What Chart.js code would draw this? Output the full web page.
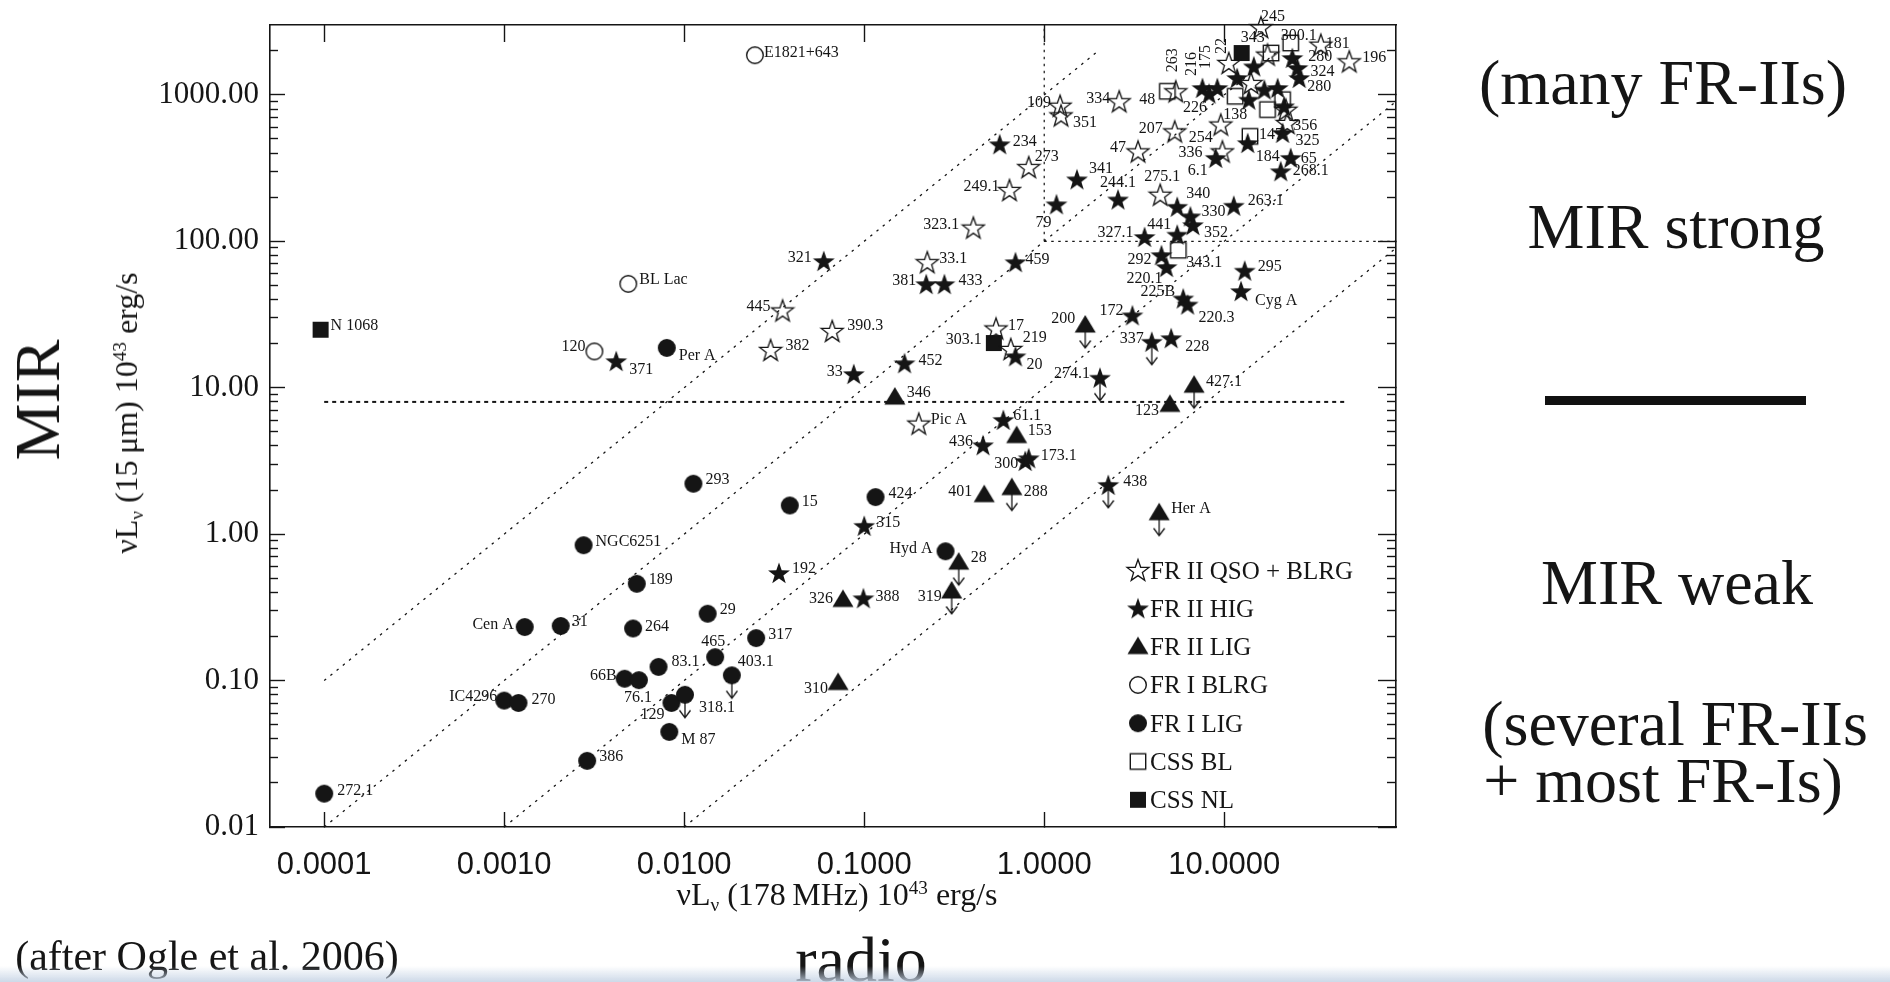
<!DOCTYPE html>
<html>
<head>
<meta charset="utf-8">
<script src="https://cdn.jsdelivr.net/npm/chart.js@4.4.1/dist/chart.umd.min.js"></script>
<style>
  html, body { margin: 0; padding: 0; background: #fff; }
  body { width: 1890px; height: 982px; position: relative; overflow: hidden;
         font-family: "Liberation Serif", "Times New Roman", serif; color: #151515; }
  #plot { position: absolute; left: 0; top: 0; }
  .t { position: absolute; white-space: nowrap; line-height: 1; transform: translate(-50%, -50%); }
  .axt { font-size: 32px; }
  .axt .sb { font-size: 0.6em; position: relative; top: 0.3em; }
  .axt .sp { font-size: 0.6em; position: relative; top: -0.55em; }
  .rot { transform: translate(-50%, -50%) rotate(-90deg); }
  .big { font-size: 64px; }
  #rule { position: absolute; left: 1545px; top: 396px; width: 261px; height: 9px; background: #111; }
  #haze { position: absolute; left: 0; bottom: 0; width: 1890px; height: 16px;
          background: linear-gradient(to bottom, rgba(255,255,255,0), rgba(196,210,228,0.85)); }
</style>
</head>
<body>
<canvas id="plot" width="1890" height="982"></canvas>

<div class="t axt" style="left:837px; top:894px;">&nu;L<span class="sb">&nu;</span> (178&thinsp;MHz) 10<span class="sp">43</span> erg/s</div>
<div class="t axt rot" style="left:126px; top:413px;">&nu;L<span class="sb">&nu;</span> (15&thinsp;&mu;m) 10<span class="sp">43</span> erg/s</div>

<div class="t big rot" style="left:38px; top:400px;">MIR</div>
<div class="t big" style="left:861px; top:960px;">radio</div>
<div class="t" style="left:207px; top:956px; font-size:42px;">(after Ogle et al. 2006)</div>

<div class="t big" style="left:1663px; top:83px;">(many FR-IIs)</div>
<div class="t big" style="left:1676px; top:227px;">MIR strong</div>
<div id="rule"></div>
<div class="t big" style="left:1677px; top:583px;">MIR weak</div>
<div class="t big" style="left:1675px; top:724px;">(several FR-IIs</div>
<div class="t big" style="left:1663px; top:781px;">+ most FR-Is)</div>
<div id="haze"></div>

<script>
// ---------- axes ----------
const xRange = [5e-5, 90];
const yRange = [0.01, 3000];
const xMajorTicks = [0.0001, 0.001, 0.01, 0.1, 1, 10];
const xTickLabels = ['0.0001', '0.0010', '0.0100', '0.1000', '1.0000', '10.0000'];
const yMajorTicks = [0.01, 0.1, 1, 10, 100, 1000];
const yTickLabels = ['0.01', '0.10', '1.00', '10.00', '100.00', '1000.00'];
const minorSteps = [2, 3, 4, 5, 6, 7, 8, 9];

// ---------- FR II QSO + BLRG ----------
const qsoNames = ['445', '382', '390.3', '323.1', '33.1', 'Pic A', '249.1', '273', '109', '351',
  '334', '17', '219', '207', '47', '275.1', '254', '336', '263', '22', '245', '181', '196',
  '', '', '', '356'];
const qsoX = [0.0352, 0.0302, 0.0664, 0.404, 0.224, 0.201, 0.641, 0.82, 1.225, 1.24,
  2.61, 0.54, 0.652, 5.31, 3.32, 4.41, 9.57, 9.77, 5.38, 10.6, 16.0, 34.4, 49.5,
  17.4, 14.1, 22.0, 22.4];
const qsoY = [33.7, 18.1, 24.4, 124, 72, 5.69, 224, 321, 843, 724,
  904, 25.4, 18.4, 563, 411, 208, 627, 411, 1058, 1651, 2900, 2203, 1694,
  1883, 1205, 792, 643];

// ---------- FR II HIG ----------
const higNames = ['371', '321', '33', '452', '381', '433', '234', '459', '20', '79',
  '341', '244.1', '327.1', '292', '220.1', '441', '340', '330', '352', '263.1',
  '295', 'Cyg A', '225B', '220.3', '172', '337', '228', '274.1', '61.1', '436',
  '300', '173.1', '315', '192', '388', '438', '6.1', '184', '325', '65',
  '268.1', '216', '226', '175', '', '', '', '', '', '',
  '280', '324', '280'];
const higX = [0.00419, 0.0596, 0.0875, 0.1675, 0.221, 0.279, 0.566, 0.692, 0.692, 1.17,
  1.52, 2.57, 3.61, 4.48, 4.78, 5.48, 5.48, 6.49, 6.7, 11.3,
  13.0, 12.4, 5.92, 6.26, 3.09, 3.96, 5.07, 2.04, 0.593, 0.457,
  0.784, 0.82, 0.1, 0.0336, 0.099, 2.27, 8.97, 13.5, 21.1, 23.4,
  20.6, 7.57, 8.24, 9.16, 11.8, 14.6, 13.7, 16.7, 19.8, 21.5,
  23.9, 25.5, 26.1];
const higY = [15.2, 73.3, 12.4, 14.7, 51, 51, 460, 72, 16.4, 179,
  265, 193, 107, 80.5, 66.7, 111, 172, 148, 129, 175,
  63, 45.7, 40.7, 37, 31.2, 20.6, 21.8, 11.7, 6.03, 4.05,
  3.16, 3.3, 1.14, 0.543, 0.365, 2.17, 371, 469, 550, 371,
  301, 1114, 1020, 1114, 1304, 1566, 927, 1086, 1114, 836,
  1786, 1527, 1304];

// ---------- FR II LIG ----------
const frIILigNames = ['346', '153', '401', '288', '28', '319', '326', '310', '200', '123', '427.1', 'Her A'];
const frIILigX = [0.148, 0.703, 0.464, 0.661, 0.335, 0.306, 0.0762, 0.0716, 1.69, 4.99, 6.8, 4.35];
const frIILigY = [8.63, 4.71, 1.86, 2.08, 0.644, 0.409, 0.358, 0.097, 26.8, 7.69, 10.4, 1.40];

// ---------- FR I BLRG ----------
const frIBlrgNames = ['E1821+643', 'BL Lac', '120'];
const frIBlrgX = [0.0247, 0.00489, 0.00317];
const frIBlrgY = [1866, 51.2, 17.7];

// ---------- FR I LIG ----------
const frILigNames = ['272.1', '386', 'IC4296', '270', 'Cen A', '31', 'NGC6251', '189', '264', '66B',
  '76.1', '129', '318.1', 'M 87', '83.1', '465', '403.1', '29', '317', '293',
  '15', '424', 'Hyd A', 'Per A'];
const frILigX = [0.0001, 0.00289, 0.0010, 0.0012, 0.0013, 0.00206, 0.00276, 0.00545, 0.0052, 0.00467,
  0.0056, 0.0085, 0.0101, 0.00826, 0.0072, 0.01486, 0.0184, 0.0135, 0.0251, 0.01125,
  0.0386, 0.1156, 0.283, 0.0080];
const frILigY = [0.0169, 0.0283, 0.073, 0.0703, 0.232, 0.236, 0.84, 0.458, 0.227, 0.103,
  0.1007, 0.0703, 0.080, 0.0446, 0.124, 0.1445, 0.1086, 0.286, 0.195, 2.21,
  1.57, 1.79, 0.764, 18.7];

// ---------- CSS ----------
const cssBlNames = ['48', '138', '', '147', '300.1', '', '', '343.1'];
const cssBlX = [4.83, 11.5, 17.4, 13.9, 23.4, 18.2, 21.1, 5.56];
const cssBlY = [1058, 978, 793, 521, 2260, 1931, 927, 86.9];

const cssNlNames = ['N 1068', '303.1', '343'];
const cssNlX = [0.0000955, 0.525, 12.5];
const cssNlY = [24.9, 20.2, 1931];

// sources with only an upper limit on the 15 micron luminosity
const upperLimits = ['337', '274.1', '438', '288', '28', '319', '200', '427.1', 'Her A', '318.1', '403.1'];

// reference lines: constant MIR/radio ratio, and the MIR split
const ratioLinesX = [[1e-4, 2], [1e-4, 20], [1e-3, 90], [1e-2, 90]];
const ratioLinesY = [[0.1, 2000], [0.01, 2000], [0.01, 900], [0.01, 90]];
const mirSplitX = [1e-4, 47];
const mirSplitY = [8, 8];
const strongCornerX = [[1, 1], [1, 90]];
const strongCornerY = [[100, 3000], [100, 100]];

// ---------- where each name sits relative to its marker: [dx, dy, align] ----------
// align: l = starts at dx, r = ends at dx, c = centred, v = rotated, reading upwards
const qsoSpots = [[-12,-5,'r'],[15,-5,'l'],[15,-6,'l'],[-14,-4,'r'],[12,-5,'l'],[12,-5,'l'],[-10,-5,'r'],[6,-12,'l'],[-9,-4,'r'],[12,6,'l'],
  [-9,-4,'r'],[12,-4,'l'],[12,-12,'l'],[-12,-4,'r'],[-12,-5,'r'],[2,-19,'c'],[-8,12,'r'],[-20,0,'r'],[-4,-31,'v'],[-8,-17,'v'],
  [12,-12,'c'],[5,-2,'l'],[13,-5,'l'],null,null,null,[6,2,'l']];
const higSpots = [[13,7,'l'],[-12,-5,'r'],[-11,-4,'r'],[14,-4,'l'],[-10,-5,'r'],[14,-5,'l'],[13,-4,'l'],[10,-4,'l'],[11,7,'l'],[-5,17,'r'],
  [12,-12,'l'],[0,-18,'c'],[-11,-5,'r'],[-10,3,'r'],[-4,10,'r'],[-6,-11,'r'],[9,-14,'l'],[11,-6,'l'],[11,6,'l'],[14,-6,'l'],
  [13,-5,'l'],[14,8,'l'],[-8,-8,'r'],[11,12,'l'],[-9,-6,'r'],[-8,-4,'r'],[14,7,'l'],[-10,-5,'r'],[10,-5,'l'],[-10,-5,'r'],
  [-7,2,'r'],[12,-4,'l'],[12,-4,'l'],[13,-5,'l'],[12,-3,'l'],[15,-4,'l'],[-8,12,'r'],[8,12,'l'],[13,7,'l'],[10,0,'l'],
  [12,-2,'l'],[-12,-24,'v'],[-2,13,'r'],[-13,-31,'v'],null,null,null,null,null,null,
  [16,-2,'l'],[13,3,'l'],[8,8,'l']];
const frIILigSpots = [[12,-6,'l'],[11,-6,'l'],[-12,-4,'r'],[12,3,'l'],[12,-6,'l'],[-10,5,'r'],[-10,-2,'r'],[-10,5,'r'],[-10,-8,'r'],[-11,5,'r'],[12,-5,'l'],[12,-5,'l']];
const frIBlrgSpots = [[9,-4,'l'],[11,-5,'l'],[-9,-6,'r']];
const frILigSpots = [[13,-4,'l'],[12,-5,'l'],[-7,-5,'r'],[13,-4,'l'],[-11,-4,'r'],[11,-5,'l'],[12,-5,'l'],[12,-5,'l'],[12,-3,'l'],[-8,-4,'r'],
  [-1,16,'c'],[-7,11,'r'],[14,12,'l'],[12,7,'l'],[13,-6,'l'],[-2,-17,'c'],[6,-15,'l'],[12,-5,'l'],[12,-5,'l'],[12,-5,'l'],
  [12,-5,'l'],[13,-5,'l'],[-13,-4,'r'],[12,7,'l']];
const cssBlSpots = [[-12,7,'r'],[0,17,'c'],null,[9,-3,'l'],[-10,-9,'l'],null,null,[8,11,'l']];
const cssNlSpots = [[10,-5,'l'],[-12,-5,'r'],[11,-17,'c']];

// ---------- drawing ----------
const INK = '#151515';
const SERIF = '"Liberation Serif", "Times New Roman", serif';
const SANS = '"Liberation Sans", Arial, sans-serif';

function makeMarker(kind) {
  const c = document.createElement('canvas');
  const w = kind === 'arrow' ? 14 : 26;
  const h = kind === 'arrow' ? 60 : 26;
  c.width = w; c.height = h;
  const g = c.getContext('2d');
  const cx = w / 2, cy = h / 2;
  g.fillStyle = INK; g.strokeStyle = INK; g.lineJoin = 'miter';
  g.beginPath();
  if (kind === 'starOpen' || kind === 'starFilled') {
    const R = 11.5, r = R * 0.4;
    for (let i = 0; i < 10; i++) {
      const a = -Math.PI / 2 + i * Math.PI / 5, rr = i % 2 ? r : R;
      g.lineTo(cx + rr * Math.cos(a), cy + 1 + rr * Math.sin(a));
    }
    g.closePath();
    if (kind === 'starFilled') g.fill(); else { g.lineWidth = 1.3; g.stroke(); }
  } else if (kind === 'circleFilled') {
    g.arc(cx, cy, 9, 0, Math.PI * 2); g.fill();
  } else if (kind === 'circleOpen') {
    g.arc(cx, cy, 8.3, 0, Math.PI * 2); g.lineWidth = 1.4; g.stroke();
  } else if (kind === 'squareOpen') {
    g.lineWidth = 1.4; g.strokeRect(cx - 7.7, cy - 7.7, 15.4, 15.4);
  } else if (kind === 'squareFilled') {
    g.fillRect(cx - 8, cy - 8, 16, 16);
  } else if (kind === 'triangle') {
    g.moveTo(cx, cy - 10); g.lineTo(cx + 10.5, cy + 7.5); g.lineTo(cx - 10.5, cy + 7.5);
    g.closePath(); g.fill();
  } else if (kind === 'arrow') {
    g.lineWidth = 1.3;
    g.moveTo(cx, cy); g.lineTo(cx, cy + 23);
    g.moveTo(cx - 5.5, cy + 15.5); g.lineTo(cx, cy + 23); g.lineTo(cx + 5.5, cy + 15.5);
    g.stroke();
  }
  return c;
}

const series = [
  { label: 'FR II QSO + BLRG', names: qsoNames, xs: qsoX, ys: qsoY, spots: qsoSpots, marker: makeMarker('starOpen') },
  { label: 'FR II HIG', names: higNames, xs: higX, ys: higY, spots: higSpots, marker: makeMarker('starFilled') },
  { label: 'FR II LIG', names: frIILigNames, xs: frIILigX, ys: frIILigY, spots: frIILigSpots, marker: makeMarker('triangle') },
  { label: 'FR I BLRG', names: frIBlrgNames, xs: frIBlrgX, ys: frIBlrgY, spots: frIBlrgSpots, marker: makeMarker('circleOpen') },
  { label: 'FR I LIG', names: frILigNames, xs: frILigX, ys: frILigY, spots: frILigSpots, marker: makeMarker('circleFilled') },
  { label: 'CSS BL', names: cssBlNames, xs: cssBlX, ys: cssBlY, spots: cssBlSpots, marker: makeMarker('squareOpen') },
  { label: 'CSS NL', names: cssNlNames, xs: cssNlX, ys: cssNlY, spots: cssNlSpots, marker: makeMarker('squareFilled') }
];

const toPoints = (xs, ys) => xs.map((x, i) => ({ x, y: ys[i] }));

const datasets = series.map((s, k) => ({
  type: 'scatter', label: s.label, data: toPoints(s.xs, s.ys),
  pointStyle: s.marker, pointRadius: 10, pointHoverRadius: 10, clip: false, order: k
}));

// downward arrows under the upper limits
const limitPoints = [];
series.forEach(s => s.names.forEach((n, i) => {
  if (n && upperLimits.includes(n)) limitPoints.push({ x: s.xs[i], y: s.ys[i] });
}));
datasets.push({ type: 'scatter', label: 'upper limits', data: limitPoints,
  pointStyle: makeMarker('arrow'), pointRadius: 10, clip: false, order: 30 });

function dottedLine(xs, ys, dash, width) {
  return { type: 'scatter', label: '', data: toPoints(xs, ys), showLine: true, fill: false,
    pointRadius: 0, borderColor: INK, borderWidth: width, borderDash: dash, order: 40 };
}
ratioLinesX.forEach((xs, i) => datasets.push(dottedLine(xs, ratioLinesY[i], [2.5, 5.5], 1.3)));
datasets.push(dottedLine(mirSplitX, mirSplitY, [4, 4], 2));
strongCornerX.forEach((xs, i) => datasets.push(dottedLine(xs, strongCornerY[i], [2.5, 4.5], 1.2)));

// tick lists for each edge of the frame
const decadesOnly = list => axis => { axis.ticks = list.map(v => ({ value: v })); };
const yMinorTicks = [];
yMajorTicks.forEach(d => minorSteps.forEach(m => { const v = d * m; if (v < yRange[1]) yMinorTicks.push(v); }));

function noOverhang(a) { a.paddingTop = 0; a.paddingBottom = 0; a.paddingLeft = 0; a.paddingRight = 0; }

function edgeAxis(position, range, ticks, len, extra) {
  return Object.assign({
    type: 'logarithmic', position, min: range[0], max: range[1],
    afterBuildTicks: decadesOnly(ticks),
    afterFit: a => { if (a.isHorizontal()) a.height = 0; else a.width = 0; noOverhang(a); },
    grid: { drawOnChartArea: false, drawTicks: true, tickLength: -len, tickColor: INK, tickWidth: 1.4 },
    border: { display: false },
    ticks: { display: false, autoSkip: false }
  }, extra || {});
}

const scales = {
  x: {
    type: 'logarithmic', position: 'bottom', min: xRange[0], max: xRange[1],
    afterBuildTicks: decadesOnly(xMajorTicks),
    afterFit: a => { a.height = 155; noOverhang(a); },
    grid: { drawOnChartArea: false, drawTicks: true, tickLength: -15, tickColor: INK, tickWidth: 1.4 },
    border: { display: true, color: INK, width: 1.6 },
    ticks: { autoSkip: false, maxRotation: 0, minRotation: 0, padding: 35, color: INK,
      font: { family: SANS, size: 31 }, callback: (v, i) => xTickLabels[i] }
  },
  y: {
    type: 'logarithmic', position: 'left', weight: 1, min: yRange[0], max: yRange[1],
    afterBuildTicks: decadesOnly(yMajorTicks),
    afterFit: a => { a.width = 270; noOverhang(a); },
    grid: { drawOnChartArea: false, drawTicks: true, tickLength: -15, tickColor: INK, tickWidth: 1.4 },
    border: { display: true, color: INK, width: 1.6 },
    ticks: { autoSkip: false, padding: 26, color: INK,
      font: { family: SERIF, size: 31 }, callback: (v, i) => yTickLabels[i] }
  },
  yMinor: edgeAxis('left', yRange, yMinorTicks, 8, { weight: 0 }),
  yRight: edgeAxis('right', yRange, yMajorTicks, 18, { weight: 0, border: { display: true, color: INK, width: 1.6 } }),
  yRightMinor: edgeAxis('right', yRange, yMinorTicks, 9, { weight: 1 }),
  xTop: edgeAxis('top', xRange, xMajorTicks, 17, { border: { display: true, color: INK, width: 1.6 } })
};

// source names next to the markers
const pointNames = {
  id: 'pointNames',
  afterDatasetsDraw(chart) {
    const { ctx } = chart, xs = chart.scales.x, ys = chart.scales.y;
    ctx.save();
    ctx.fillStyle = INK;
    ctx.font = '16px ' + SERIF;
    ctx.textBaseline = 'alphabetic';
    series.forEach(s => s.names.forEach((name, i) => {
      const spot = s.spots[i];
      if (!name || !spot) return;
      const px = xs.getPixelForValue(s.xs[i]) + spot[0];
      const py = ys.getPixelForValue(s.ys[i]) + spot[1];
      if (spot[2] === 'v') {
        ctx.save(); ctx.translate(px, py); ctx.rotate(-Math.PI / 2);
        ctx.textAlign = 'center'; ctx.fillText(name, 0, 5.5); ctx.restore();
        return;
      }
      ctx.textAlign = spot[2] === 'r' ? 'right' : spot[2] === 'c' ? 'center' : 'left';
      ctx.fillText(name, px, py + 5.5);
    }));
    ctx.restore();
  }
};

// key in the lower right of the frame
const keyBox = {
  id: 'keyBox',
  afterDraw(chart) {
    const { ctx } = chart;
    ctx.save();
    ctx.fillStyle = INK;
    ctx.font = '25px ' + SERIF;
    ctx.textAlign = 'left';
    ctx.textBaseline = 'alphabetic';
    series.forEach((s, i) => {
      const rowY = 570 + i * 38.3;
      ctx.drawImage(s.marker, 1138 - s.marker.width / 2, rowY - s.marker.height / 2);
      ctx.fillText(s.label, 1150, rowY + 8.5);
    });
    ctx.restore();
  }
};

new Chart(document.getElementById('plot'), {
  type: 'scatter',
  data: { datasets },
  options: {
    responsive: false, animation: false, devicePixelRatio: 1, events: [],
    layout: { padding: { left: 0, top: 25, right: 494, bottom: 0 } },
    plugins: { legend: { display: false }, tooltip: { enabled: false } },
    scales
  },
  plugins: [pointNames, keyBox]
});
</script>
</body>
</html>
